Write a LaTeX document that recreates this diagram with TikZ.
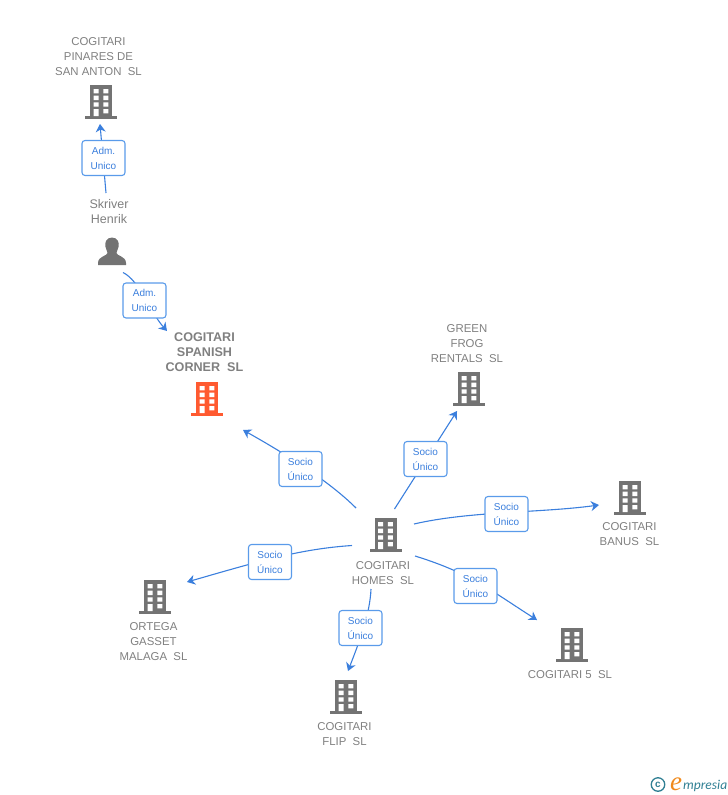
\documentclass[tikz,border=0pt]{standalone}
\usepackage{fontspec}
\setmainfont{Liberation Sans}
\newfontfamily\logofont{Carlito}
\newfontfamily\logoe{Liberation Serif}
\usetikzlibrary{arrows.meta}
\definecolor{icongray}{HTML}{737373}
\definecolor{labelgray}{HTML}{808080}
\definecolor{linkblue}{HTML}{3B7FDD}
\definecolor{boxblue}{HTML}{5A9BEA}
\definecolor{focusred}{HTML}{FF5A30}
\definecolor{logoteal}{HTML}{2F7F93}
\definecolor{logoorange}{HTML}{F08A1D}
\tikzset{
  x=1pt,y=-1pt,
  ent/.style={text=labelgray,font=\fontsize{11.4}{15}\selectfont,align=center,inner sep=0pt},
  entperson/.style={text=labelgray,font=\fontsize{12.5}{15}\selectfont,align=center,inner sep=0pt},
  entbold/.style={text=labelgray,font=\fontsize{12.6}{15}\selectfont\bfseries,align=center,inner sep=0pt},
  role/.style={draw=boxblue,fill=white,line width=1.1pt,rounded corners=3pt,minimum width=43pt,minimum height=35pt,inner sep=0pt,text=linkblue,font=\fontsize{10}{15}\selectfont,align=center},
  conn/.style={draw=linkblue,line width=1.1pt},
  arr/.style={conn,-{Stealth[length=8pt,width=10pt,inset=2.5pt]}},
  pics/bldg/.style={code={
    \fill[#1] (-11,0) rectangle (11,31);
    \fill[#1] (-16,31) rectangle (16,33.5);
    \fill[white] (-7.3,4) rectangle (-2.3,8.3) (2.3,4) rectangle (7.3,8.3)
      (-7.3,10.7) rectangle (-2.3,15) (2.3,10.7) rectangle (7.3,15)
      (-7.3,17.3) rectangle (-2.3,21.7) (2.3,17.3) rectangle (7.3,21.7)
      (-7.3,24) rectangle (-2.3,31) (2.3,24) rectangle (7.3,28.3);
  }},
}
\begin{document}
\begin{tikzpicture}
\useasboundingbox (0,0) rectangle (728,795);
% icons
\pic at (101,85) {bldg=icongray};
\pic at (207,382) {bldg=focusred};
\pic at (469,372) {bldg=icongray};
\pic at (630,481) {bldg=icongray};
\pic at (385.5,518) {bldg=icongray};
\pic at (155,580) {bldg=icongray};
\pic at (572,628) {bldg=icongray};
\pic at (346,680) {bldg=icongray};
% person
\fill[icongray] (112,237.5) .. controls (106,237.5) and (104.5,243) .. (105.5,247)
  .. controls (106,250) and (107.5,251) .. (107.5,253)
  .. controls (107.5,256) and (98,256) .. (98,263) -- (98,265) -- (126,265) -- (126,263)
  .. controls (126,256) and (116.5,256) .. (116.5,253)
  .. controls (116.5,251) and (118,250) .. (118.5,247)
  .. controls (119.5,243) and (118,237.5) .. (112,237.5) -- cycle;
% entity labels
\node[ent] (pinares) at (98.5,57) {COGITARI\\PINARES DE\\SAN ANTON\ \ SL};
\node[entperson] (skriver) at (109,212) {Skriver\\Henrik};
\node[entbold] (spanish) at (204.5,352.5) {COGITARI\\SPANISH\\CORNER\ \ SL};
\node[ent] (green) at (467,344) {GREEN\\FROG\\RENTALS\ \ SL};
\node[ent] (banus) at (629.5,534.5) {COGITARI\\BANUS\ \ SL};
\node[ent] (homes) at (383,573.5) {COGITARI\\HOMES\ \ SL};
\node[ent] (ortega) at (153.5,642) {ORTEGA\\GASSET\\MALAGA\ \ SL};
\node[ent] (five) at (570,675) {COGITARI 5\ \ SL};
\node[ent] (flip) at (344.5,734.5) {COGITARI\\FLIP\ \ SL};
% connector ends
\coordinate (s1) at (106,193); \coordinate (e1) at (100,124);
\coordinate (s2) at (123,272.5); \coordinate (e2) at (167,331);
\coordinate (s3) at (356,508); \coordinate (e3) at (243,430);
\coordinate (s4) at (394.5,509); \coordinate (e4) at (457,411);
\coordinate (s5) at (414,524); \coordinate (e5) at (599,505);
\coordinate (s6) at (352,545.5); \coordinate (e6) at (187,582);
\coordinate (s7) at (415,556); \coordinate (e7) at (537,620);
\coordinate (s8) at (371,589); \coordinate (e8) at (348,671);
% connectors
\draw[arr] (s1) -- (e1);
\draw[arr] (s2) .. controls (140,281) and (150,312) .. (e2);
\draw[arr] (s3) .. controls (335,487) and (300,462) .. (e3);
\draw[arr] (s4) -- (e4);
\draw[arr] (s5) .. controls (470,511) and (540,513) .. (e5);
\draw[arr] (s6) .. controls (300,549) and (260,561) .. (e6);
\draw[arr] (s7) .. controls (470,573) and (490,590) .. (e7);
\draw[arr] (s8) .. controls (370,615) and (358,645) .. (e8);
% role boxes
\node[role] (r1) at (103.5,158) {Adm.\\Unico};
\node[role] (r2) at (144.5,300.5) {Adm.\\Unico};
\node[role] (r3) at (300.5,469) {Socio\\Único};
\node[role] (r4) at (425.5,459) {Socio\\Único};
\node[role] (r5) at (506.5,514) {Socio\\Único};
\node[role] (r6) at (270,562) {Socio\\Único};
\node[role] (r7) at (475.5,586) {Socio\\Único};
\node[role] (r8) at (360.5,628) {Socio\\Único};
% logo
\node[circle,draw=logoteal,line width=1.3pt,minimum size=13.5pt,inner sep=0pt,text=logoteal,font=\fontsize{10}{10}\selectfont\bfseries] (copy) at (658,784.5) {c};
\node[anchor=base west,inner sep=0pt,text=logoorange,font=\fontsize{27}{27}\logoe\itshape] (elogo) at (670,790) {e};
\node[anchor=base west,inner sep=0pt,text=logoteal,font=\fontsize{13.5}{13.5}\logofont\itshape] (mlogo) at (683,789) {mpresia};
\end{tikzpicture}
\end{document}
